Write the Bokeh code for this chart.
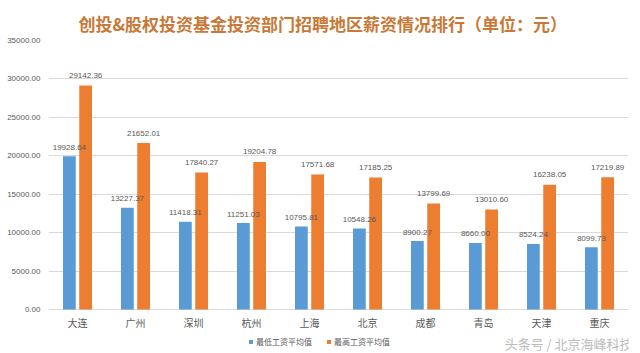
from bokeh.plotting import figure
from bokeh.models import (ColumnDataSource, FactorRange, FixedTicker, PrintfTickFormatter,
                          Legend, LegendItem, Label, Range1d)
from bokeh.transform import dodge
from bokeh.core.properties import value
from bokeh.embed import file_html
from bokeh.resources import INLINE

cities = ['大连', '广州', '深圳', '杭州', '上海', '北京', '成都', '青岛', '天津', '重庆']
low = [19928.64, 13227.37, 11418.31, 11251.03, 10795.81, 10548.26, 8900.27, 8660.00, 8524.24, 8099.73]
high = [29142.36, 21652.01, 17840.27, 19204.78, 17571.68, 17185.25, 13799.69, 13010.60, 16238.05, 17219.89]
series_names = ['最低工资平均值', '最高工资平均值']
title_text = '创投&股权投资基金投资部门招聘地区薪资情况排行（单位：元）'
watermark = '头条号 / 北京海峰科技'
yticks = [0, 5000, 10000, 15000, 20000, 25000, 30000, 35000]

BLUE = '#5B9BD5'
ORANGE = '#ED7D31'
GRAY = '#595959'
FONT = 'Noto Sans CJK SC'

src = ColumnDataSource(dict(
    city=cities, low=low, high=high,
    zero=[0] * len(cities),
    low_lbl=['%.2f' % v for v in low],
    high_lbl=['%.2f' % v for v in high],
))

# frame spans from the 35000 gridline down to the bottom of the canvas,
# so that the legend and the watermark can live inside it
Y_BOTTOM = -5725
p = figure(width=640, height=353, x_range=FactorRange(*cities, range_padding=0),
           y_range=Range1d(Y_BOTTOM, 35000), output_backend="svg", toolbar_location=None,
           min_border_left=48, min_border_right=12, min_border_top=40, min_border_bottom=0)

p.title.text = title_text
p.title.align = 'left'
p.title.offset = 30
p.title.text_font = FONT
p.title.text_font_size = '17px'
p.title.text_font_style = 'bold'
p.title.text_color = '#C87837'

r1 = p.vbar(x=dodge('city', -0.14, range=p.x_range), top='low', width=0.22, source=src,
            color=BLUE, line_color=None)
r2 = p.vbar(x=dodge('city', 0.14, range=p.x_range), top='high', width=0.22, source=src,
            color=ORANGE, line_color=None)

p.text(x=dodge('city', -0.14, range=p.x_range), y='low', text='low_lbl', source=src,
       text_align='center', text_baseline='middle', y_offset=-9,
       text_font=value('Liberation Sans'), text_font_size='8px', text_color=GRAY)
p.text(x=dodge('city', 0.14, range=p.x_range), y='high', text='high_lbl', source=src,
       text_align='center', text_baseline='middle', y_offset=-10,
       text_font=value('Liberation Sans'), text_font_size='8px', text_color=GRAY)

# category labels under the zero line
p.text(x='city', y='zero', text='city', source=src,
       text_align='center', text_baseline='middle', y_offset=13,
       text_font=value(FONT), text_font_size='10px', text_color=GRAY)

p.xaxis.visible = False

p.yaxis.ticker = FixedTicker(ticks=yticks)
p.yaxis.formatter = PrintfTickFormatter(format='%.2f')
p.yaxis.axis_line_color = None
p.yaxis.major_tick_line_color = None
p.yaxis.minor_tick_line_color = None
p.yaxis.major_tick_out = 0
p.yaxis.major_label_text_font_size = '8px'
p.yaxis.major_label_text_color = GRAY
p.yaxis.major_label_text_font = 'Liberation Sans'
p.yaxis.major_label_standoff = 8

p.xgrid.grid_line_color = None
p.ygrid.grid_line_color = '#D9D9D9'
p.outline_line_color = None

legend = Legend(items=[LegendItem(label=series_names[0], renderers=[r1]),
                       LegendItem(label=series_names[1], renderers=[r2])],
                orientation='horizontal', location=(200, 6),
                label_text_font=FONT, label_text_font_size='8px', label_text_color=GRAY,
                glyph_width=5, glyph_height=5, label_standoff=3, spacing=14,
                padding=0, margin=0, label_height=10,
                border_line_color=None, background_fill_alpha=0)
p.add_layout(legend, 'center')

p.add_layout(Label(x=10.07, y=-4420, text=watermark,
                   text_align='right', text_baseline='middle', text_font=FONT,
                   text_font_size='13px', text_color='#BBBBBB'))

open("out.html", "w").write(file_html(p, INLINE))
